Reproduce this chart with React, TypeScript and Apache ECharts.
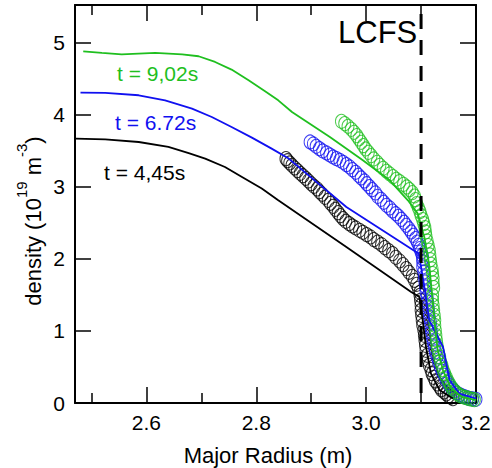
import React, { useEffect, useRef } from "react";
import * as echarts from "echarts";

// Axis ranges / ticks
const xMin = 2.47;
const xMax = 3.2;
const yMin = 0;
const yMax = 5.52;
const xMajorTicks = [2.6, 2.8, 3.0, 3.2];
const xMinorTicks = [2.5, 2.7, 2.9, 3.1];
const yTicks = [0, 1, 2, 3, 4, 5];
const lcfsR = 3.1;

// Solid profiles (major radius m, density 1e19 m^-3)
const greenLineR = [2.485, 2.519, 2.555, 2.616, 2.665, 2.695, 2.725, 2.755, 2.786, 2.816, 2.84, 2.865, 2.934, 2.994, 3.043, 3.076, 3.094, 3.106, 3.115, 3.12, 3.125, 3.13, 3.14, 3.155, 3.175, 3.2];
const greenLineN = [4.878, 4.855, 4.836, 4.855, 4.836, 4.809, 4.73, 4.624, 4.476, 4.323, 4.198, 4.036, 3.689, 3.366, 3.089, 2.811, 2.627, 2.3, 1.9, 1.5, 1.1, 0.75, 0.45, 0.2, 0.08, 0.04];

const blueLineR = [2.48, 2.525, 2.586, 2.634, 2.683, 2.719, 2.755, 2.792, 2.828, 2.859, 2.964, 3.096, 3.106, 3.115, 3.14, 3.152, 3.17, 3.2];
const blueLineN = [4.305, 4.3, 4.268, 4.198, 4.083, 3.967, 3.828, 3.681, 3.528, 3.39, 2.718, 2.07, 1.609, 1.147, 0.777, 0.315, 0.13, 0.06];

const blackLineR = [2.471, 2.525, 2.586, 2.64, 2.677, 2.707, 2.743, 2.774, 2.81, 2.84, 2.964, 3.082, 3.097, 3.103, 3.109, 3.118, 3.134, 3.158];
const blackLineN = [3.667, 3.657, 3.62, 3.551, 3.467, 3.39, 3.273, 3.135, 2.974, 2.811, 2.164, 1.54, 1.47, 1.147, 0.777, 0.408, 0.176, 0.061];

// Measured profiles (open circles), read along each trail
const greenCircR = [2.955, 2.961, 2.967, 2.973, 2.978, 2.983, 2.987, 2.991, 2.995, 2.999, 3.004, 3.009, 3.014, 3.02, 3.025, 3.031, 3.037, 3.043, 3.049, 3.055, 3.061, 3.068, 3.074, 3.079, 3.084, 3.088, 3.09, 3.092, 3.095, 3.098, 3.1, 3.103, 3.105, 3.107, 3.108, 3.109, 3.111, 3.113, 3.115, 3.116, 3.117, 3.118, 3.12, 3.121, 3.122, 3.122, 3.123, 3.121, 3.121, 3.122, 3.123, 3.124, 3.125, 3.125, 3.126, 3.127, 3.128, 3.129, 3.13, 3.132, 3.134, 3.135, 3.138, 3.14, 3.143, 3.146, 3.149, 3.152, 3.155, 3.158, 3.162, 3.166, 3.17, 3.174, 3.179, 3.184, 3.188, 3.193, 3.197];
const greenCircN = [3.907, 3.875, 3.838, 3.796, 3.754, 3.708, 3.662, 3.616, 3.57, 3.523, 3.477, 3.431, 3.385, 3.338, 3.297, 3.255, 3.214, 3.177, 3.14, 3.103, 3.07, 3.033, 2.996, 2.959, 2.918, 2.871, 2.821, 2.765, 2.71, 2.654, 2.599, 2.543, 2.488, 2.432, 2.372, 2.312, 2.247, 2.183, 2.118, 2.053, 1.988, 1.924, 1.859, 1.794, 1.729, 1.665, 1.6, 1.494, 1.424, 1.355, 1.286, 1.216, 1.147, 1.078, 1.008, 0.939, 0.87, 0.809, 0.754, 0.694, 0.638, 0.578, 0.523, 0.463, 0.407, 0.356, 0.306, 0.264, 0.222, 0.19, 0.158, 0.13, 0.107, 0.093, 0.079, 0.07, 0.061, 0.051, 0.047];

const blueCircR = [2.898, 2.904, 2.909, 2.915, 2.921, 2.928, 2.934, 2.94, 2.946, 2.952, 2.958, 2.964, 2.97, 2.975, 2.981, 2.986, 2.991, 2.997, 3.001, 3.006, 3.011, 3.017, 3.021, 3.027, 3.032, 3.037, 3.043, 3.048, 3.054, 3.059, 3.064, 3.069, 3.073, 3.078, 3.082, 3.086, 3.09, 3.093, 3.096, 3.098, 3.1, 3.102, 3.103, 3.103, 3.103, 3.105, 3.106, 3.107, 3.108, 3.109, 3.111, 3.112, 3.113, 3.114, 3.115, 3.117, 3.118, 3.119, 3.12, 3.122, 3.124, 3.126, 3.129, 3.132, 3.135, 3.138, 3.142, 3.145, 3.149, 3.152, 3.157, 3.161, 3.165, 3.17, 3.175, 3.18, 3.185, 3.189, 3.194, 3.2];
const blueCircN = [3.62, 3.593, 3.56, 3.528, 3.496, 3.468, 3.44, 3.412, 3.389, 3.366, 3.338, 3.306, 3.274, 3.237, 3.2, 3.158, 3.121, 3.08, 3.042, 3.001, 2.959, 2.913, 2.867, 2.825, 2.784, 2.742, 2.705, 2.663, 2.626, 2.589, 2.548, 2.506, 2.465, 2.418, 2.372, 2.326, 2.28, 2.233, 2.187, 2.141, 2.095, 2.048, 2.002, 1.956, 1.887, 1.817, 1.748, 1.679, 1.609, 1.54, 1.471, 1.401, 1.332, 1.263, 1.193, 1.124, 1.055, 0.985, 0.916, 0.847, 0.777, 0.708, 0.638, 0.569, 0.5, 0.44, 0.384, 0.333, 0.282, 0.241, 0.199, 0.167, 0.139, 0.116, 0.098, 0.084, 0.07, 0.061, 0.056, 0.051];

const blackCircR = [2.854, 2.857, 2.861, 2.865, 2.87, 2.875, 2.88, 2.885, 2.89, 2.895, 2.9, 2.905, 2.911, 2.915, 2.92, 2.925, 2.931, 2.935, 2.94, 2.944, 2.949, 2.953, 2.958, 2.963, 2.969, 2.975, 2.981, 2.988, 2.994, 3.001, 3.008, 3.014, 3.021, 3.028, 3.034, 3.041, 3.048, 3.054, 3.061, 3.067, 3.073, 3.078, 3.084, 3.088, 3.092, 3.095, 3.098, 3.098, 3.099, 3.1, 3.1, 3.101, 3.102, 3.103, 3.105, 3.106, 3.107, 3.108, 3.109, 3.111, 3.113, 3.115, 3.118, 3.12, 3.123, 3.126, 3.13, 3.134, 3.137, 3.142, 3.146, 3.15, 3.154, 3.158];
const blackCircN = [3.389, 3.361, 3.329, 3.297, 3.26, 3.223, 3.186, 3.153, 3.116, 3.08, 3.042, 3.005, 2.969, 2.932, 2.895, 2.853, 2.811, 2.77, 2.728, 2.686, 2.64, 2.599, 2.557, 2.52, 2.488, 2.455, 2.428, 2.395, 2.367, 2.335, 2.303, 2.266, 2.233, 2.196, 2.155, 2.113, 2.072, 2.021, 1.97, 1.919, 1.864, 1.813, 1.757, 1.702, 1.646, 1.591, 1.535, 1.494, 1.424, 1.355, 1.286, 1.216, 1.147, 1.078, 1.008, 0.939, 0.87, 0.8, 0.731, 0.662, 0.592, 0.523, 0.463, 0.407, 0.356, 0.306, 0.264, 0.222, 0.185, 0.153, 0.125, 0.098, 0.079, 0.061];

const labels = ["t = 9,02s", "t = 6.72s", "t = 4,45s"];

const GREEN = "#1fbf1f";
const BLUE = "#1010f0";
const BLACK = "#000000";
const FONT = "'Liberation Sans', Arial, Helvetica, sans-serif";

const zip = (a: number[], b: number[]) => a.map((v, i) => [v, b[i]]);

export default function App() {
  const ref = useRef<HTMLDivElement>(null);
  useEffect(() => {
    if (!ref.current) return;
    const chart = echarts.init(ref.current, undefined, { renderer: "svg" });

    const majorX = (position: string, showLabel: boolean) => ({
      type: "value",
      position,
      min: xMin,
      max: xMax,
      axisLine: { show: true, onZero: false, lineStyle: { color: BLACK, width: 2 } },
      axisTick: { show: true, inside: true, length: 16, customValues: xMajorTicks, lineStyle: { color: BLACK, width: 1.5 } },
      axisLabel: showLabel
        ? { show: true, customValues: xMajorTicks, formatter: (v: number) => v.toFixed(1), fontSize: 21, color: BLACK, fontFamily: FONT, margin: 9 }
        : { show: false },
      splitLine: { show: false },
    });
    const minorX = (position: string) => ({
      type: "value",
      position,
      min: xMin,
      max: xMax,
      axisLine: { show: false, onZero: false },
      axisTick: { show: true, inside: true, length: 10, customValues: xMinorTicks, lineStyle: { color: BLACK, width: 1.5 } },
      axisLabel: { show: false },
      splitLine: { show: false },
    });
    const yAx = (position: string, showLabel: boolean) => ({
      type: "value",
      position,
      min: yMin,
      max: yMax,
      axisLine: { show: true, onZero: false, lineStyle: { color: BLACK, width: 2 } },
      axisTick: { show: true, inside: true, length: 16, customValues: yTicks, lineStyle: { color: BLACK, width: 1.5 } },
      axisLabel: showLabel
        ? { show: true, customValues: yTicks, formatter: (v: number) => String(v), fontSize: 21, color: BLACK, fontFamily: FONT, margin: 10 }
        : { show: false },
      splitLine: { show: false },
    });

    const circles = (name: string, r: number[], n: number[], color: string) => ({
      name,
      type: "scatter",
      data: zip(r, n),
      symbol: "circle",
      symbolSize: [12, 14],
      itemStyle: { color: "rgba(0,0,0,0)", borderColor: color, borderWidth: 1 },
      silent: true,
    });
    const line = (name: string, r: number[], n: number[], color: string) => ({
      name,
      type: "line",
      data: zip(r, n),
      showSymbol: false,
      symbol: "none",
      lineStyle: { color, width: 1.8 },
      silent: true,
    });

    chart.setOption({
      animation: false,
      backgroundColor: "#ffffff",
      grid: { left: 75, right: 16, top: 5, bottom: 65, containLabel: false, outerBoundsMode: "none" },
      xAxis: [majorX("bottom", true), minorX("bottom"), majorX("top", false), minorX("top")],
      yAxis: [yAx("left", true), yAx("right", false)],
      series: [
        circles("black circles", blackCircR, blackCircN, BLACK),
        circles("blue circles", blueCircR, blueCircN, BLUE),
        circles("green circles", greenCircR, greenCircN, GREEN),
        line(labels[2], blackLineR, blackLineN, BLACK),
        line(labels[1], blueLineR, blueLineN, BLUE),
        line(labels[0], greenLineR, greenLineN, GREEN),
        {
          name: "LCFS",
          type: "line",
          data: [[lcfsR, yMin], [lcfsR, yMax]],
          showSymbol: false,
          symbol: "none",
          lineStyle: { color: BLACK, width: 3, type: [15, 11], dashOffset: 16 },
          silent: true,
          z: 5,
        },
      ],
      graphic: [
        { type: "text", x: 117, y: 73, style: { text: labels[0], fill: GREEN, font: `21px ${FONT}`, align: "left", verticalAlign: "middle" } },
        { type: "text", x: 115, y: 122, style: { text: labels[1], fill: BLUE, font: `21px ${FONT}`, align: "left", verticalAlign: "middle" } },
        { type: "text", x: 104, y: 172, style: { text: labels[2], fill: BLACK, font: `21px ${FONT}`, align: "left", verticalAlign: "middle" } },
        { type: "text", x: 338, y: 32, style: { text: "LCFS", fill: BLACK, font: `31px ${FONT}`, align: "left", verticalAlign: "middle" } },
        { type: "text", x: 268, y: 455, style: { text: "Major Radius (m)", fill: BLACK, font: `22px ${FONT}`, align: "center", verticalAlign: "middle" } },
        {
          type: "text",
          x: 29,
          y: 221,
          rotation: Math.PI / 2,
          style: {
            text: "{n|density (10}{s|19}{n| m}{s|-3}{n|)}",
            fill: BLACK,
            align: "center",
            verticalAlign: "middle",
            rich: {
              n: { fontSize: 22, fontFamily: FONT, lineHeight: 30, verticalAlign: "bottom", fill: BLACK },
              s: { fontSize: 15, fontFamily: FONT, lineHeight: 30, verticalAlign: "top", fill: BLACK },
            },
          },
        },
      ],
    });
    return () => chart.dispose();
  }, []);
  return <div ref={ref} style={{ position: "absolute", left: 0, top: 0, width: 492, height: 468 }} />;
}
